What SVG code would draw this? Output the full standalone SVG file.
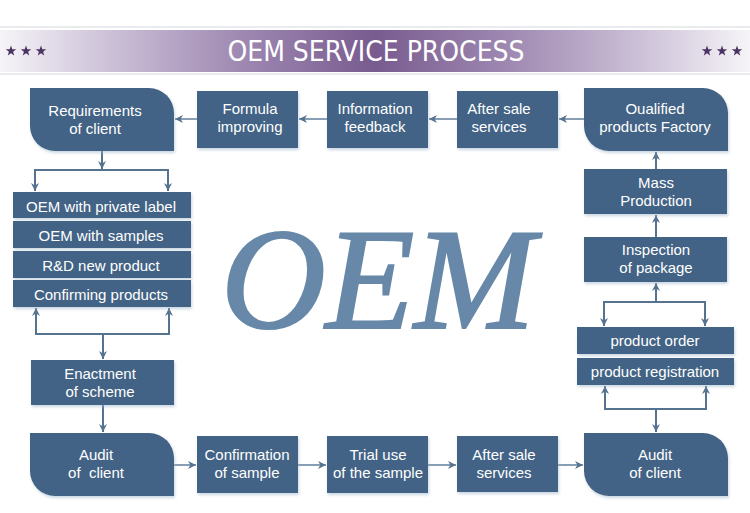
<svg xmlns="http://www.w3.org/2000/svg" width="750" height="513" viewBox="0 0 750 513">
<defs>
<linearGradient id="band" x1="0" y1="0" x2="1" y2="0">
<stop offset="0" stop-color="#f6f4f8"/>
<stop offset="0.15" stop-color="#cbbfd6"/>
<stop offset="0.32" stop-color="#9f89b2"/>
<stop offset="0.5" stop-color="#785b8f"/>
<stop offset="0.68" stop-color="#9f89b2"/>
<stop offset="0.85" stop-color="#cbbfd6"/>
<stop offset="1" stop-color="#f6f4f8"/>
</linearGradient>
<filter id="sh" x="-10%" y="-10%" width="125%" height="130%">
<feDropShadow dx="1" dy="2" stdDeviation="1.5" flood-color="#9fb4ca" flood-opacity="0.55"/>
</filter>
<marker id="ah" viewBox="0 0 10 10" refX="10" refY="5" markerWidth="8" markerHeight="8" markerUnits="userSpaceOnUse" orient="auto">
<path d="M0,0 L10,5 L0,10 L3,5 Z" fill="#55728f"/>
</marker>
<polygon id="star" points="0,-5.5 1.3,-1.8 5.2,-1.7 2.1,0.8 3.2,4.5 0,2.3 -3.2,4.5 -2.1,0.8 -5.2,-1.7 -1.3,-1.8" fill="#4b3463"/>
</defs>
<style>
.n{fill:#436385;filter:url(#sh)}
.t{font-family:"Liberation Sans",Arial,sans-serif;font-size:15px;fill:#ffffff;text-anchor:middle}
.c{fill:none;stroke:#55728f;stroke-width:2}
.r{fill:none;stroke:#6a86a2;stroke-width:1.6}
</style>
<rect width="750" height="513" fill="#ffffff"/>
<g id="header">
<line x1="0" y1="27" x2="750" y2="27" stroke="#e3e4ea" stroke-width="1.5"/>
<line x1="0" y1="74" x2="750" y2="74" stroke="#e3e4ea" stroke-width="1.5"/>
<rect x="0" y="30" width="750" height="42" fill="url(#band)"/>
<use href="#star" x="11" y="51"/>
<use href="#star" x="26" y="51"/>
<use href="#star" x="41" y="51"/>
<use href="#star" x="707" y="51"/>
<use href="#star" x="722" y="51"/>
<use href="#star" x="737" y="51"/>
<text x="376" y="61" font-family="DejaVu Sans, sans-serif" font-stretch="condensed" font-size="28" fill="#ffffff" text-anchor="middle" textLength="297" lengthAdjust="spacingAndGlyphs">OEM SERVICE PROCESS</text>
</g>
<text id="oem-watermark" x="378" y="328" font-family="Liberation Serif, serif" font-style="italic" font-size="145" fill="#6788a8" stroke="#6788a8" stroke-width="2.2" text-anchor="middle">OEM</text>
<g id="connectors">
<line class="r" x1="197" y1="119" x2="175" y2="119" marker-end="url(#ah)"/>
<line class="r" x1="327" y1="119" x2="299" y2="119" marker-end="url(#ah)"/>
<line class="r" x1="457" y1="119" x2="429" y2="119" marker-end="url(#ah)"/>
<line class="r" x1="584" y1="119" x2="559" y2="119" marker-end="url(#ah)"/>
<line class="c" x1="102" y1="151" x2="102" y2="169" marker-end="url(#ah)"/>
<path class="c" d="M35,191 V170 H168 V191" />
<line class="c" x1="35" y1="180" x2="35" y2="191" marker-end="url(#ah)"/>
<line class="c" x1="168" y1="180" x2="168" y2="191" marker-end="url(#ah)"/>
<path class="c" d="M36,308 V334 H169 V308"/>
<line class="c" x1="36" y1="320" x2="36" y2="308" marker-end="url(#ah)"/>
<line class="c" x1="169" y1="320" x2="169" y2="308" marker-end="url(#ah)"/>
<line class="c" x1="103" y1="334" x2="103" y2="359" marker-end="url(#ah)"/>
<line class="c" x1="103" y1="405" x2="103" y2="432" marker-end="url(#ah)"/>
<line class="r" x1="174" y1="465" x2="196" y2="465" marker-end="url(#ah)"/>
<line class="r" x1="298" y1="465" x2="326" y2="465" marker-end="url(#ah)"/>
<line class="r" x1="428" y1="465" x2="456" y2="465" marker-end="url(#ah)"/>
<line class="r" x1="558" y1="465" x2="583" y2="465" marker-end="url(#ah)"/>
<line class="c" x1="656" y1="409" x2="656" y2="432" marker-end="url(#ah)"/>
<path class="c" d="M605,386 V409 H706 V386"/>
<line class="c" x1="605" y1="398" x2="605" y2="386" marker-end="url(#ah)"/>
<line class="c" x1="706" y1="398" x2="706" y2="386" marker-end="url(#ah)"/>
<path class="c" d="M604,326 V302 H705 V326"/>
<line class="c" x1="604" y1="314" x2="604" y2="326" marker-end="url(#ah)"/>
<line class="c" x1="705" y1="314" x2="705" y2="326" marker-end="url(#ah)"/>
<line class="c" x1="656" y1="302" x2="656" y2="283" marker-end="url(#ah)"/>
<line class="c" x1="656" y1="237" x2="656" y2="215" marker-end="url(#ah)"/>
<line class="c" x1="656" y1="169" x2="656" y2="152" marker-end="url(#ah)"/>
</g>
<g id="requirements">
<path class="n" d="M30,88 H149 A25,25 0 0 1 174,113 V151 H55 A25,25 0 0 1 30,126 Z"/>
<text class="t" x="95" y="116">Requirements</text>
<text class="t" x="95" y="134">of client</text>
</g>
<g id="formula">
<rect class="n" x="197" y="91" width="101" height="57"/>
<text class="t" x="250" y="114">Formula</text>
<text class="t" x="250" y="132">improving</text>
</g>
<g id="information">
<rect class="n" x="327" y="91" width="101" height="57"/>
<text class="t" x="375" y="114">Information</text>
<text class="t" x="375" y="132">feedback</text>
</g>
<g id="after-sale-top">
<rect class="n" x="457" y="91" width="101" height="57"/>
<text class="t" x="499" y="114">After sale</text>
<text class="t" x="499" y="132">services</text>
</g>
<g id="qualified">
<path class="n" d="M584,88 H703 A25,25 0 0 1 728,113 V151 H609 A25,25 0 0 1 584,126 Z"/>
<text class="t" x="655" y="114">Oualified</text>
<text class="t" x="655" y="132">products Factory</text>
</g>
<g id="oem-private">
<rect class="n" x="13" y="192" width="178" height="26"/>
<text class="t" x="101" y="212">OEM with private label</text>
</g>
<g id="oem-samples">
<rect class="n" x="13" y="221" width="178" height="27"/>
<text class="t" x="101" y="241">OEM with samples</text>
</g>
<g id="rd">
<rect class="n" x="13" y="251" width="178" height="27"/>
<text class="t" x="101" y="271">R&amp;D new product</text>
</g>
<g id="confirming">
<rect class="n" x="13" y="280" width="178" height="27"/>
<text class="t" x="101" y="300">Confirming products</text>
</g>
<g id="enactment">
<rect class="n" x="31" y="360" width="143" height="45"/>
<text class="t" x="100" y="379">Enactment</text>
<text class="t" x="100" y="397">of scheme</text>
</g>
<g id="audit-left">
<path class="n" d="M30,433 H149 A25,25 0 0 1 174,458 V496 H55 A25,25 0 0 1 30,471 Z"/>
<text class="t" x="96" y="460">Audit</text>
<text class="t" x="96" y="478" xml:space="preserve">of  client</text>
</g>
<g id="confirmation">
<rect class="n" x="197" y="436" width="101" height="57"/>
<text class="t" x="247" y="460">Confirmation</text>
<text class="t" x="247" y="478">of sample</text>
</g>
<g id="trial">
<rect class="n" x="327" y="436" width="101" height="57"/>
<text class="t" x="378" y="460">Trial use</text>
<text class="t" x="378" y="478">of the sample</text>
</g>
<g id="after-sale-bottom">
<rect class="n" x="457" y="436" width="101" height="56"/>
<text class="t" x="504" y="460">After sale</text>
<text class="t" x="504" y="478">services</text>
</g>
<g id="audit-right">
<path class="n" d="M584,433 H703 A25,25 0 0 1 728,458 V496 H609 A25,25 0 0 1 584,471 Z"/>
<text class="t" x="655" y="460">Audit</text>
<text class="t" x="655" y="478">of client</text>
</g>
<g id="mass">
<rect class="n" x="584" y="169" width="143" height="45"/>
<text class="t" x="656" y="188">Mass</text>
<text class="t" x="656" y="206">Production</text>
</g>
<g id="inspection">
<rect class="n" x="584" y="237" width="143" height="45"/>
<text class="t" x="656" y="255">Inspection</text>
<text class="t" x="656" y="273">of package</text>
</g>
<g id="product-order">
<rect class="n" x="577" y="327" width="157" height="27"/>
<text class="t" x="655" y="346">product order</text>
</g>
<g id="product-registration">
<rect class="n" x="577" y="358" width="157" height="27"/>
<text class="t" x="655" y="377">product registration</text>
</g>
</svg>
